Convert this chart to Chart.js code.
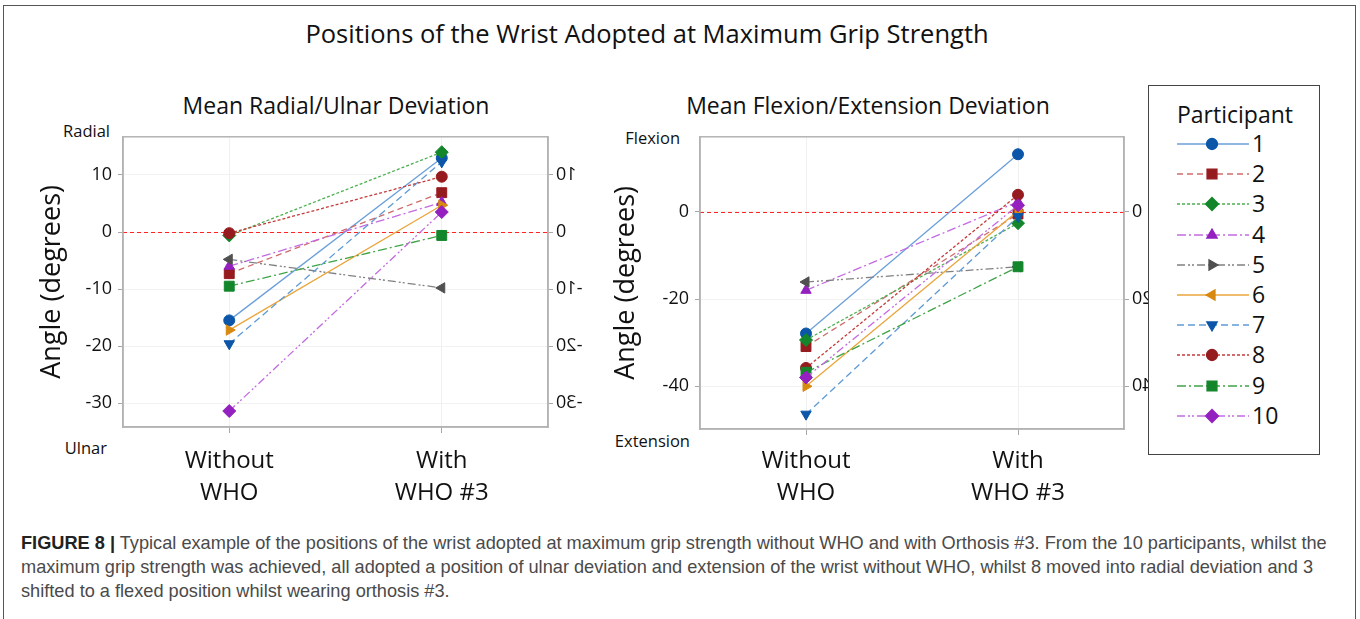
<!DOCTYPE html>
<html>
<head>
<meta charset="utf-8">
<script src="https://cdn.jsdelivr.net/npm/chart.js@4.4.1/dist/chart.umd.min.js"></script>
<style>
  body { margin: 0; background: #fff; width: 1360px; height: 619px; overflow: hidden; position: relative; font-family: "Open Sans", sans-serif; color: #111; }
  .frame { position: absolute; left: 3px; top: 5px; width: 1353px; height: 640px; border: 1.5px solid #555; box-sizing: border-box; }
  .t { position: absolute; white-space: nowrap; line-height: 1; }
  #mainTitle { left: 0; width: 1294px; text-align: center; top: 21px; font-size: 25.5px; }
  #subLeft { left: 136px; width: 400px; text-align: center; top: 94px; font-size: 23px; }
  #subRight { left: 668px; width: 400px; text-align: center; top: 94px; font-size: 23px; }
  .side { font-size: 16.5px; text-align: right; width: 100px; }
  canvas { position: absolute; }
  #legendBox { position: absolute; left: 1148px; top: 85px; width: 172px; height: 370px; border: 1.5px solid #444; box-sizing: border-box; background: #fff; }
  #legendTitle { position: absolute; left: 28px; top: 17px; font-size: 23px; line-height: 1; }
  .lrow { position: absolute; left: 27px; height: 24px; }
  .lrow canvas { position: absolute; left: 0; top: 0; }
  .lrow span { position: absolute; left: 76px; top: -1px; font-size: 23px; line-height: 24px; }
  #caption { position: absolute; left: 21px; top: 531px; font-family: "Liberation Sans", Arial, sans-serif; font-size: 18.2px; line-height: 24px; color: #4a4a4a; white-space: nowrap; }
  #caption b { color: #222; }
</style>
</head>
<body>
<div class="frame"></div>
<div class="t" id="mainTitle">Positions of the Wrist Adopted at Maximum Grip Strength</div>
<div class="t" id="subLeft">Mean Radial/Ulnar Deviation</div>
<div class="t" id="subRight">Mean Flexion/Extension Deviation</div>
<div class="t side" style="left:10px; top:123px;">Radial</div>
<div class="t side" style="left:7px; top:440px;">Ulnar</div>
<div class="t side" style="left:580px; top:130px;">Flexion</div>
<div class="t side" style="left:590px; top:433px;">Extension</div>

<canvas id="radialChart" style="left:0; top:120px;" width="600" height="400"></canvas>
<canvas id="flexionChart" style="left:600px; top:120px;" width="560" height="400"></canvas>

<div id="legendBox"><div id="legendTitle">Participant</div></div>

<div id="caption"><b>FIGURE 8 |</b> Typical example of the positions of the wrist adopted at maximum grip strength without WHO and with Orthosis #3. From the 10 participants, whilst the<br>maximum grip strength was achieved, all adopted a position of ulnar deviation and extension of the wrist without WHO, whilst 8 moved into radial deviation and 3<br>shifted to a flexed position whilst wearing orthosis #3.</div>

<script>
// values, one per participant 1..10
const categories = [['Without', 'WHO'], ['With', 'WHO #3']];
const participants = ['1', '2', '3', '4', '5', '6', '7', '8', '9', '10'];
const radialWithout = [-15.5, -7.3, -0.6, -6.0, -4.8, -17.2, -19.6, -0.2, -9.5, -31.4];
const radialWith = [13.0, 6.9, 14.0, 5.2, -9.8, 4.7, 12.3, 9.7, -0.6, 3.5];
const flexionWithout = [-27.9, -30.9, -29.4, -18.0, -16.1, -40.0, -46.4, -35.8, -36.8, -38.0];
const flexionWith = [13.2, -0.5, -2.6, 2.3, -12.6, 0.2, -1.1, 3.9, -12.6, 1.5];
const radialTicks = [-30, -20, -10, 0, 10];
const flexionTicks = [-40, -20, 0];

// styles
const lineColors = ['#6b9fd9', '#cf6b6b', '#4caf50', '#c26be0', '#808080', '#eaa53b', '#5f9bd6', '#c43b3b', '#3fa447', '#c26be0'];
const markerColors = ['#0b56a8', '#961b1e', '#13862b', '#9320bf', '#505050', '#d8890f', '#0b56a8', '#961b1e', '#13862b', '#9320bf'];
const dashes = [[], [6, 4], [3, 2], [9, 3, 2, 3], [8, 3, 2, 2, 2, 3], [], [7, 4], [3, 2], [9, 3, 2, 3], [8, 3, 2, 2, 2, 3]];
const shapes = ['circle', 'rect', 'rectRot', 'triangle', 'triangle', 'triangle', 'triangle', 'circle', 'rect', 'rectRot'];
const rotations = [0, 0, 0, 0, -90, 90, 180, 0, 0, 0];
const legendRotations = [0, 0, 0, 0, 90, -90, 180, 0, 0, 0];
const radii = [5.5, 7, 6.5, 6, 6, 6, 6, 5.5, 7, 6.5];

const FONT = '"Open Sans", sans-serif';

function buildDatasets(without, withWho) {
    return participants.map((p, i) => ({
        label: p,
        data: [without[i], withWho[i]],
        borderColor: lineColors[i],
        borderWidth: 1.3,
        borderDash: dashes[i],
        pointStyle: shapes[i],
        pointRotation: rotations[i],
        pointRadius: radii[i],
        pointBackgroundColor: markerColors[i],
        pointBorderColor: markerColors[i],
        pointBorderWidth: 1,
        order: participants.length - i,
    }));
}

// box round the plot, red zero line, mirrored labels on the right axis
const framePlugin = {
    id: 'frame',
    beforeDatasetsDraw(chart) {
        const { ctx, chartArea: a } = chart;
        const y0 = Math.round(chart.scales.y.getPixelForValue(0)) + 0.5;
        ctx.save();
        ctx.strokeStyle = '#f22';
        ctx.lineWidth = 1;
        ctx.setLineDash([4, 3]);
        ctx.beginPath();
        ctx.moveTo(a.left, y0);
        ctx.lineTo(a.right, y0);
        ctx.stroke();
        ctx.restore();
    },
    afterDraw(chart) {
        const { ctx, chartArea: a } = chart;
        ctx.save();
        ctx.strokeStyle = '#b3b3b3';
        ctx.lineWidth = 1.5;
        ctx.strokeRect(a.left, a.top, a.right - a.left, a.bottom - a.top);
        const s = chart.scales.y2;
        ctx.font = '18px ' + FONT;
        ctx.fillStyle = '#111';
        ctx.textAlign = 'left';
        ctx.textBaseline = 'middle';
        s.ticks.forEach(t => {
            const label = String(t.value);
            const w = ctx.measureText(label).width;
            const y = s.getPixelForValue(t.value);
            ctx.save();
            ctx.translate(a.right + 8 + w, y);
            ctx.scale(-1, 1);
            ctx.fillText(label, 0, 0);
            ctx.restore();
        });
        ctx.restore();
    }
};

function makeChart(id, without, withWho, ticks, range, geo) {
    const setTicks = s => { s.ticks = ticks.map(v => ({ value: v })); };
    return new Chart(document.getElementById(id), {
        type: 'line',
        data: { labels: categories, datasets: buildDatasets(without, withWho) },
        options: {
            responsive: false,
            animation: false,
            layout: { padding: { top: geo.top, left: 0, right: 0, bottom: 0 } },
            plugins: { legend: { display: false }, tooltip: { enabled: false } },
            scales: {
                x: {
                    type: 'category',
                    offset: true,
                    grid: { color: '#f0f0f0', tickColor: '#a8a8a8', tickLength: 6, offset: false },
                    border: { color: '#b3b3b3', width: 1.5 },
                    ticks: { font: { size: 24, family: FONT, lineHeight: 1.3 }, color: '#111', padding: geo.xPad, maxRotation: 0 },
                    afterFit: s => { s.height = geo.xh; }
                },
                y: {
                    position: 'left',
                    min: range[0], max: range[1],
                    afterBuildTicks: setTicks,
                    afterFit: s => { s.width = geo.left; },
                    grid: { color: '#f2f2f2', tickColor: '#a8a8a8', tickLength: 5 },
                    border: { color: '#b3b3b3', width: 1.5 },
                    ticks: { font: { size: 18, family: FONT }, color: '#111', padding: 6 },
                    title: { display: true, text: 'Angle (degrees)', font: { size: 27, family: FONT, lineHeight: 1.2 }, color: '#111', padding: { top: geo.titlePad, bottom: 0 } }
                },
                y2: {
                    position: 'right',
                    min: range[0], max: range[1],
                    afterBuildTicks: setTicks,
                    afterFit: s => { s.width = geo.right; },
                    grid: { drawOnChartArea: false, tickColor: '#a8a8a8', tickLength: 5 },
                    border: { color: '#b3b3b3', width: 1.5 },
                    ticks: { display: false }
                }
            }
        },
        plugins: [framePlugin]
    });
}

makeChart('radialChart', radialWithout, radialWith, radialTicks, [-34.2, 16.7],
    { top: 12, left: 123, right: 52, xh: 93, titlePad: 36, xPad: 13 });
makeChart('flexionChart', flexionWithout, flexionWith, flexionTicks, [-49.8, 17.2],
    { top: 14, left: 100, right: 36, xh: 91, titlePad: 10, xPad: 11 });

// legend: line sample with marker, then participant number
const box = document.getElementById('legendBox');
participants.forEach((p, i) => {
    const row = document.createElement('div');
    row.className = 'lrow';
    row.style.top = (46 + 30.2 * i) + 'px';
    const c = document.createElement('canvas');
    c.width = 74; c.height = 24;
    const sp = document.createElement('span');
    sp.textContent = p;
    row.appendChild(c); row.appendChild(sp);
    box.appendChild(row);
    const ctx = c.getContext('2d');
    ctx.strokeStyle = lineColors[i];
    ctx.lineWidth = 1.3;
    ctx.setLineDash(dashes[i]);
    ctx.beginPath(); ctx.moveTo(1, 12); ctx.lineTo(73, 12); ctx.stroke();
    ctx.setLineDash([]);
    ctx.fillStyle = markerColors[i];
    ctx.strokeStyle = markerColors[i];
    Chart.helpers.drawPoint(ctx, { pointStyle: shapes[i], rotation: legendRotations[i], radius: radii[i], borderWidth: 1 }, 36, 12);
});
</script>
</body>
</html>
